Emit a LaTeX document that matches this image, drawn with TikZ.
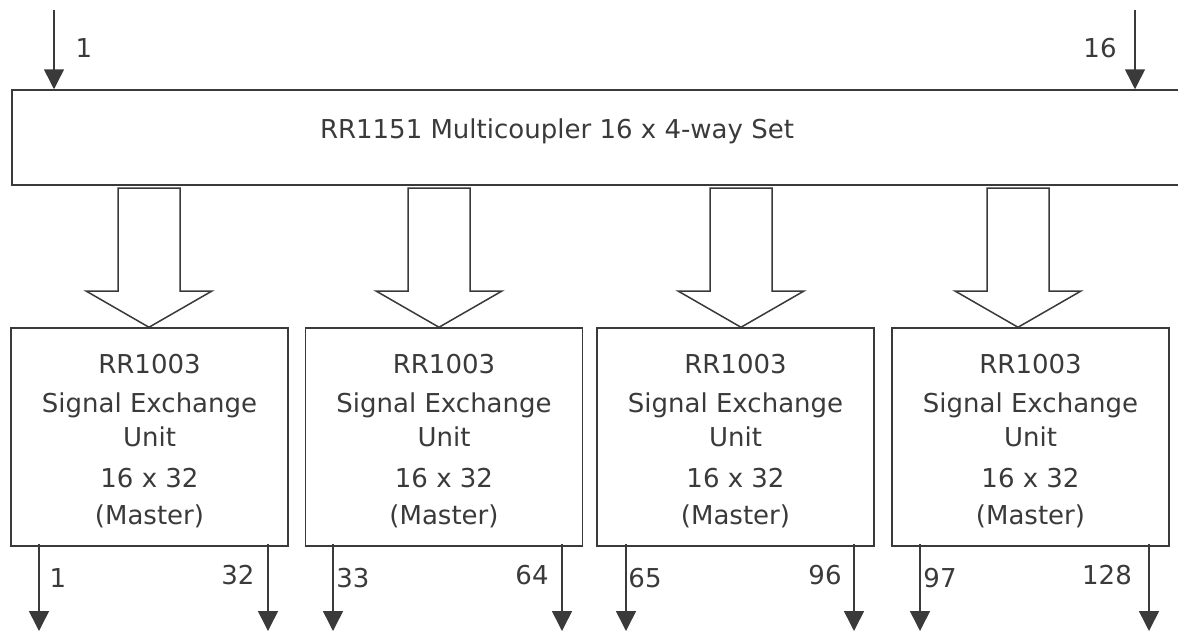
\documentclass[tikz,border=0pt]{standalone}
\usepackage{fontspec}
\setmainfont{DejaVu Sans}
\usetikzlibrary{arrows.meta}

\definecolor{ink}{HTML}{3A3A3A}

\tikzset{
  boxline/.style={draw=ink, line width=1.5pt},
  unitbox/.style={boxline, minimum width=277pt, minimum height=218pt, inner sep=0pt},
  unittext/.style={inner sep=0pt, align=center, text=ink},
  sig/.style={draw=ink, line width=1.5pt, -{Triangle[width=20pt,length=20pt]}},
  fatarrow/.style={boxline, line join=miter, fill=white},
  lbl/.style={text=ink, inner sep=0pt}
}

\begin{document}
\begin{tikzpicture}[x=1pt, y=-1pt, font=\fontsize{26}{34}\selectfont]

\useasboundingbox (0,0) rectangle (1178,630);

% Multicoupler
\node[boxline, minimum width=1171pt, minimum height=95pt, inner sep=0pt] (coupler) at (597.5,137.5) {};
\node[lbl, anchor=base] (title) at (557,138) {RR1151 Multicoupler 16 x 4-way Set};

% inputs
\coordinate (in1) at (54,10);
\coordinate (in16) at (1135,10);
\draw[sig] (in1) -- (in1 |- coupler.north);
\draw[sig] (in16) -- (in16 |- coupler.north);
\node[lbl] (inlbl1) at (84,48) {1};
\node[lbl] (inlbl16) at (1100,48) {16};

% Signal exchange units
\foreach \n/\cx in {1/149.5, 2/444, 3/735.5, 4/1030.5} {
  \node[unitbox] (unit\n) at (\cx,437) {};
  \node[unittext] (utext\n) at ([yshift=-4pt]unit\n.center)
    {RR1003\\[5pt]Signal Exchange\\Unit\\[7pt]16 x 32\\[3pt](Master)};
}

% Block arrows
\foreach \n/\ax in {1/149, 2/439, 3/741, 4/1018} {
  \coordinate (tip\n) at (\ax,0 |- unit\n.north);
  \draw[fatarrow] (\ax-31,188) -- (\ax+31,188) -- (\ax+31,291) -- (\ax+63,291)
    -- (tip\n) -- (\ax-63,291) -- (\ax-31,291) -- cycle;
}

% Outputs
\foreach \n/\l/\r in {1/39/268, 2/333/562, 3/626/854, 4/920/1149} {
  \coordinate (outl\n) at (\l,631);
  \coordinate (outr\n) at (\r,631);
  \draw[sig] ([yshift=3pt]outl\n |- unit\n.south) -- (outl\n);
  \draw[sig] ([yshift=3pt]outr\n |- unit\n.south) -- (outr\n);
}

% Output numbers
\foreach \m/\px/\py/\t in {a/58/578/1, b/238/575/32, c/353/578/33, d/532/575/64,
    e/645/578/65, f/825/575/96, g/940/578/97, h/1107/575/128}
  \node[lbl] (num\m) at (\px,\py) {\t};

\end{tikzpicture}
\end{document}
